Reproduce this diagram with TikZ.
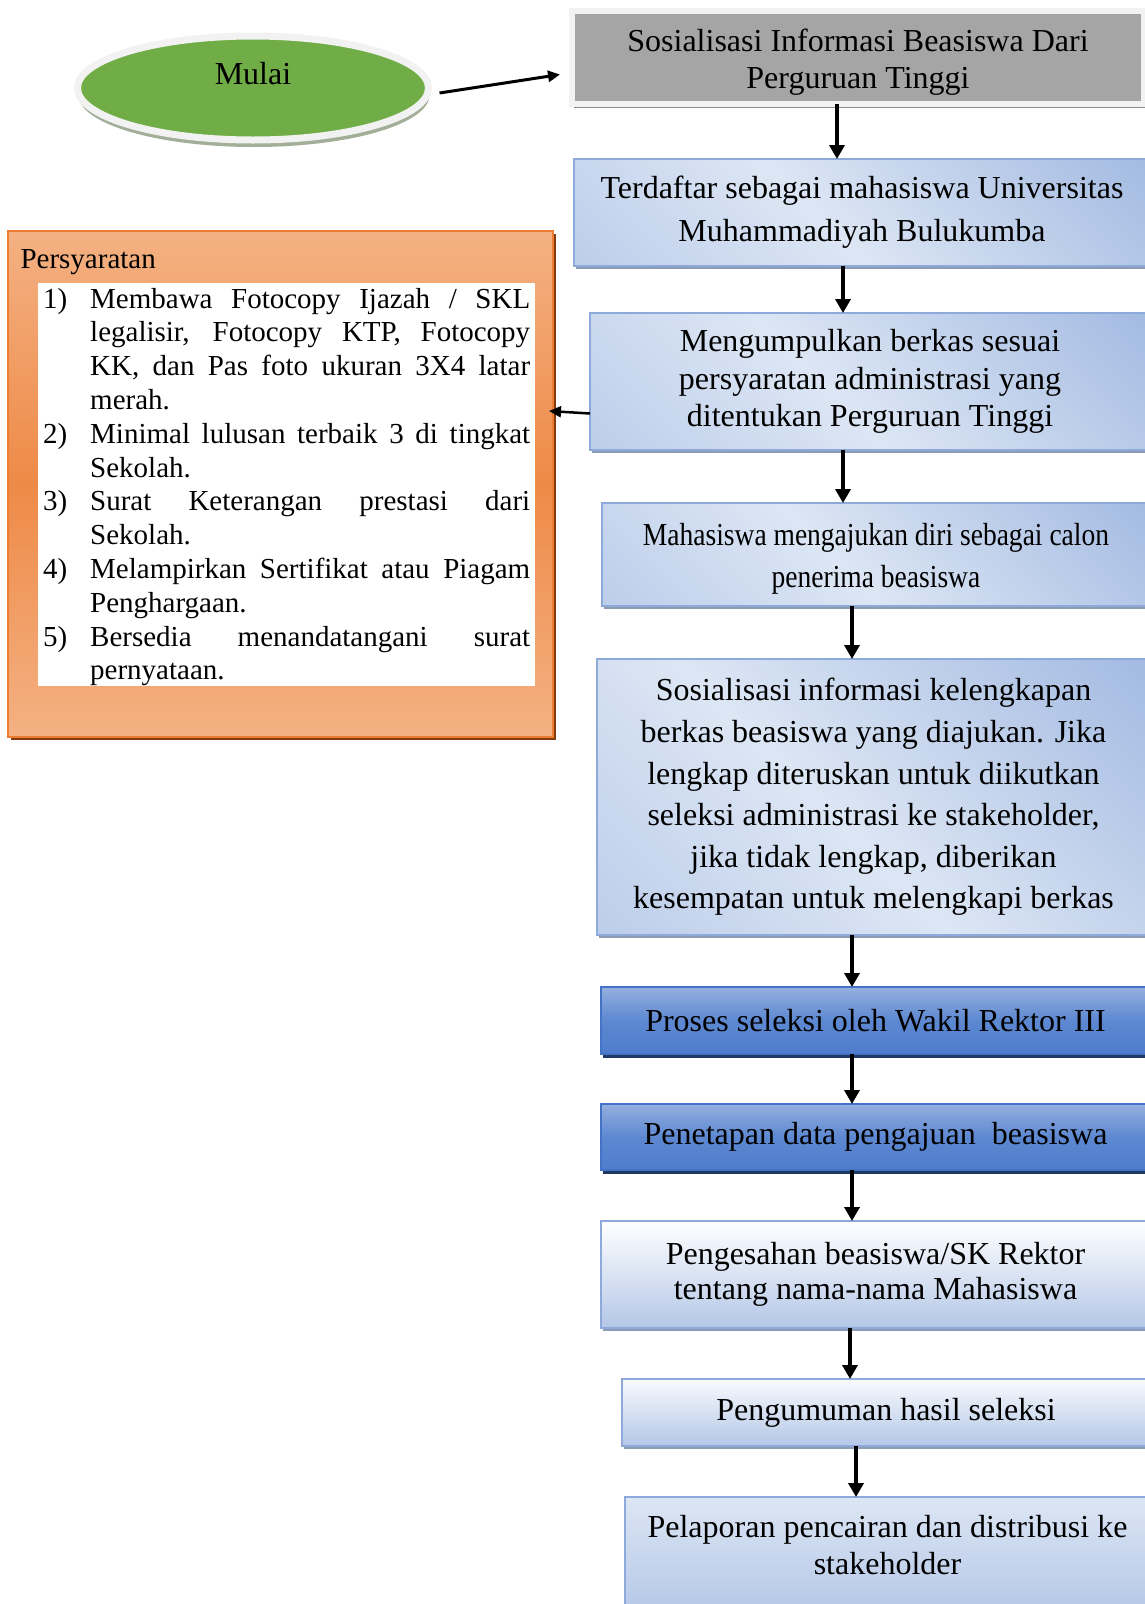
\documentclass[tikz,border=0pt]{standalone}
\usepackage{fontspec}
\setmainfont{Liberation Serif}
\newfontfamily\narrowserif[FakeStretch=0.86]{Liberation Serif}
\usetikzlibrary{arrows.meta,shapes.geometric,shadows}
\definecolor{ink}{HTML}{000000}
\definecolor{ringgrey}{HTML}{F2F2F2}
\definecolor{startgreen}{HTML}{70AD47}
\definecolor{startshadow}{HTML}{A3AE98}
\definecolor{infogrey}{HTML}{A5A5A5}
\definecolor{infoshadow}{HTML}{8C8C8C}
\definecolor{blight}{HTML}{DCE6F4}
\definecolor{bmid}{HTML}{AEC2E6}
\definecolor{bdark}{HTML}{8EAADB}
\definecolor{boxedge}{HTML}{8EAADB}
\definecolor{boxshadow}{HTML}{8C9AB3}
\definecolor{stepedge}{HTML}{4472C4}
\definecolor{steptop}{HTML}{95B0DF}
\definecolor{stepmid}{HTML}{5D88D1}
\definecolor{stepbottom}{HTML}{4F7CCB}
\definecolor{stepshadow}{HTML}{1F3864}
\definecolor{palefill}{HTML}{B4C7E7}
\definecolor{reqedge}{HTML}{ED7D31}
\definecolor{reqlight}{HTML}{F4B183}
\definecolor{reqmid}{HTML}{EE8A47}
\definecolor{reqshadow}{HTML}{843C0C}
\pgfdeclarehorizontalshading{bluediag}{100bp}{color(0bp)=(bmid); color(45bp)=(blight); color(100bp)=(bdark)}
\newcommand{\reqitem}[1]{\par\noindent\hangindent=47pt\hangafter=1\makebox[47pt][l]{#1}}

\begin{document}
\begin{tikzpicture}[x=1pt, y=-1pt,
  font=\fontsize{32}{43}\selectfont,
  frame/.style={anchor=north west, align=center, inner sep=0pt, outer sep=0pt, text=ink, line width=1.5pt},
  softbox/.style={frame, draw=boxedge, shade, shading=bluediag, shading angle=45,
    drop shadow={fill=boxshadow, opacity=1, shadow xshift=2pt, shadow yshift=-3pt}},
  strongbox/.style={frame, draw=stepedge, top color=steptop, bottom color=stepbottom, middle color=stepmid,
    drop shadow={fill=stepshadow, opacity=1, shadow xshift=2pt, shadow yshift=-4pt}},
  palebox/.style={frame, draw=boxedge, top color=white, bottom color=palefill,
    drop shadow={fill=boxshadow, opacity=1, shadow xshift=2pt, shadow yshift=-3pt}},
  flow/.style={->, draw=ink, line width=4.5pt, >={Triangle[length=14pt, width=15pt]}},
  link/.style={->, draw=ink, line width=2.5pt, >={Triangle[length=12pt, width=11pt]}}
]
\useasboundingbox (0,0) rectangle (1145,1604);
\clip (0,0) rectangle (1145,1604);

% ---------------------------------------------------------------------------
% start and the first step
% ---------------------------------------------------------------------------
\node[ellipse, draw=ringgrey, line width=7pt, fill=startgreen, outer sep=0pt,
  minimum width=351pt, minimum height=104pt, text depth=30pt,
  drop shadow={fill=startshadow, opacity=1, shadow xshift=1pt, shadow yshift=-7pt}] (start) at (253,88) {Mulai};

\node[frame, draw=ringgrey, line width=6pt, fill=infogrey, minimum width=572pt, minimum height=93pt,
  font=\fontsize{32}{37}\selectfont,
  drop shadow={fill=infoshadow, opacity=1, shadow xshift=2pt, shadow yshift=-4pt}] (info) at (572,11)
  {\rule{0pt}{32pt}Sosialisasi Informasi Beasiswa Dari\\Perguruan Tinggi};

% ---------------------------------------------------------------------------
% requirements panel
% ---------------------------------------------------------------------------
\node[frame, draw=reqedge, line width=2pt, top color=reqlight, bottom color=reqlight, middle color=reqmid,
  minimum width=545pt, minimum height=506pt,
  drop shadow={fill=reqshadow, opacity=1, shadow xshift=3pt, shadow yshift=-3pt}] (req) at (8,231) {};
\node[anchor=base west, font=\fontsize{29}{34}\selectfont] (reqtitle) at (17,268) {Persyaratan};
\node[frame, line width=0pt, fill=white, minimum width=497pt, minimum height=403pt] (reqpanel) at (38,283) {};
\node[anchor=north west, inner xsep=5pt, inner ysep=3pt, text width=487pt, align=justify,
  font=\fontsize{29}{33.8}\selectfont] (reqlist) at (38,271) {%
  \reqitem{1)}Membawa Fotocopy Ijazah / SKL\linebreak legalisir, Fotocopy KTP, Fotocopy\linebreak KK, dan Pas foto ukuran 3X4 latar\linebreak merah.
  \reqitem{2)}Minimal lulusan terbaik 3 di tingkat\linebreak Sekolah.
  \reqitem{3)}Surat Keterangan prestasi dari\linebreak Sekolah.
  \reqitem{4)}Melampirkan Sertifikat atau Piagam\linebreak Penghargaan.
  \reqitem{5)}Bersedia menandatangani surat\linebreak pernyataan.\par};

% ---------------------------------------------------------------------------
% main flow
% ---------------------------------------------------------------------------
\node[softbox, minimum width=576pt, minimum height=107pt] (reg) at (574,159)
  {Terdaftar sebagai mahasiswa Universitas\\Muhammadiyah Bulukumba};
\node[softbox, minimum width=560pt, minimum height=137pt, font=\fontsize{32}{37.4}\selectfont] (collect) at (590,313)
  {Mengumpulkan berkas sesuai\\persyaratan administrasi yang\\ditentukan Perguruan Tinggi};
\node[softbox, minimum width=548pt, minimum height=103pt, font=\narrowserif\fontsize{32}{42}\selectfont] (apply) at (602,503)
  {\rule{0pt}{31pt}Mahasiswa mengajukan diri sebagai calon\\penerima beasiswa};
\node[softbox, minimum width=553pt, minimum height=276pt, font=\fontsize{32}{41.6}\selectfont] (inform) at (597,659)
  {Sosialisasi informasi kelengkapan\\berkas beasiswa yang diajukan. Jika\\lengkap diteruskan untuk diikutkan\\seleksi administrasi ke stakeholder,\\jika tidak lengkap, diberikan\\kesempatan untuk melengkapi berkas};
\node[strongbox, minimum width=549pt, minimum height=67pt] (proses) at (601,987)
  {Proses seleksi oleh Wakil Rektor III};
\node[strongbox, minimum width=549pt, minimum height=66pt] (tetap) at (601,1104)
  {Penetapan data pengajuan\ \ beasiswa};
\node[palebox, minimum width=549pt, minimum height=107pt, font=\fontsize{32}{35}\selectfont] (sah) at (601,1221)
  {Pengesahan beasiswa/SK Rektor\\tentang nama-nama Mahasiswa};
\node[palebox, top color=white!80!blight, minimum width=528pt, minimum height=67pt] (umum) at (622,1379)
  {Pengumuman hasil seleksi};
\node[palebox, top color=blight, minimum width=525pt, minimum height=118pt, font=\fontsize{32}{37}\selectfont] (lapor) at (625,1497)
  {Pelaporan pencairan dan distribusi ke\\stakeholder\rule[-22pt]{0pt}{22pt}};

% connectors
\draw[link, line width=3pt] ([xshift=11pt, yshift=-5pt]start.east) -- ([xshift=-12pt, yshift=-17pt]info.west);
\draw[link] ([yshift=-32pt]collect.west) -- ([xshift=-4pt, yshift=73pt]req.east);
\draw[flow] ([xshift=-21pt]info.south) -- ([xshift=-21pt]info.south |- reg.north);
\draw[flow] ([xshift=-19pt]reg.south) -- ([xshift=-19pt]reg.south |- collect.north);
\draw[flow] ([xshift=-27pt]collect.south) -- ([xshift=-27pt]collect.south |- apply.north);
\draw[flow] ([xshift=-24pt]apply.south) -- ([xshift=-24pt]apply.south |- inform.north);
\draw[flow] ([xshift=-21.5pt]inform.south) -- ([xshift=-21.5pt]inform.south |- proses.north);
\draw[flow] ([xshift=-23.5pt]proses.south) -- ([xshift=-23.5pt]proses.south |- tetap.north);
\draw[flow] ([xshift=-23.5pt]tetap.south) -- ([xshift=-23.5pt]tetap.south |- sah.north);
\draw[flow] ([xshift=-25.5pt]sah.south) -- ([xshift=-25.5pt]sah.south |- umum.north);
\draw[flow] ([xshift=-30pt]umum.south) -- ([xshift=-30pt]umum.south |- lapor.north);

\end{tikzpicture}
\end{document}
